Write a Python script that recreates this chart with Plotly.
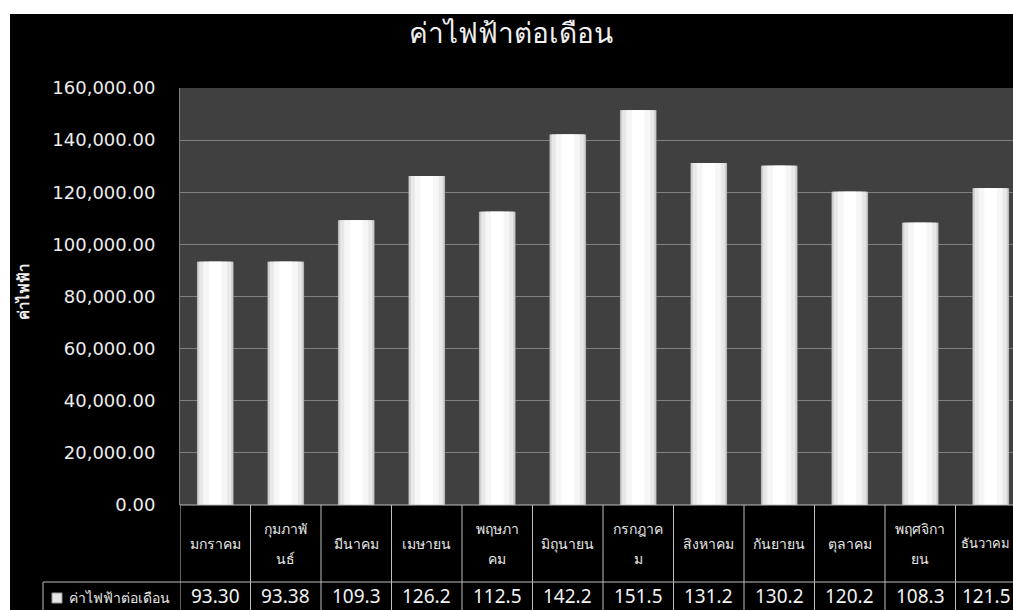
import plotly.graph_objects as go

# Monthly electricity cost (thousand baht)
months = ["มกราคม", "กุมภาพั<br>นธ์", "มีนาคม", "เมษายน", "พฤษภา<br>คม", "มิถุนายน",
          "กรกฎาค<br>ม", "สิงหาคม", "กันยายน", "ตุลาคม", "พฤศจิกา<br>ยน", "ธันวาคม"]
cost_k = [93.30, 93.38, 109.3, 126.2, 112.5, 142.2, 151.5, 131.2, 130.2, 120.2, 108.3, 121.5]
series_name = "ค่าไฟฟ้าต่อเดือน"
y_title = "ค่าไฟฟ้า"
y_ticks = [0, 20000, 40000, 60000, 80000, 100000, 120000, 140000, 160000]

cost = [v * 1000 for v in cost_k]
cost_text = [f"{v:.2f}"[:5] for v in cost_k]
x = list(range(len(months)))

W, H = 1013, 610
L, R, T, B = 180, 0, 88, 105
pw, ph = W - L - R, H - T - B
cat_px = 70.5


def px_x(p):
    return (p - L) / pw


def px_y(p):
    return (H - B - p) / ph


FONT = "Noto Sans, DejaVu Sans, sans-serif"

fig = go.Figure()

# layered bars give a soft bevelled white column
layers = [(0.52, "#a6a6a6"), (0.50, "#d2d2d2"), (0.45, "#e8e8e8"), (0.34, "#f6f6f6"), (0.18, "#ffffff")]
for w, c in layers:
    fig.add_trace(go.Bar(x=x, y=cost, width=w, marker=dict(color=c, line=dict(width=0)),
                         hoverinfo="skip", showlegend=False))

shapes = []
annotations = []

# data table below the plot
line_col = "#bdbdbd"
y_top = px_y(505)
y_mid = px_y(582)
y_bot = px_y(H + 5)
for i in range(len(months) + 1):
    shapes.append(dict(type="line", xref="x", yref="paper", x0=i - 0.5, x1=i - 0.5,
                       y0=y_top, y1=y_bot, line=dict(color=line_col, width=1)))
shapes.append(dict(type="line", xref="paper", yref="paper", x0=0, x1=1.05,
                   y0=y_top, y1=y_top, line=dict(color=line_col, width=1)))
shapes.append(dict(type="line", xref="paper", yref="paper", x0=px_x(43), x1=1.05,
                   y0=y_mid, y1=y_mid, line=dict(color=line_col, width=1)))
shapes.append(dict(type="line", xref="paper", yref="paper", x0=px_x(43), x1=px_x(43),
                   y0=y_mid, y1=y_bot, line=dict(color=line_col, width=1)))
# legend swatch
shapes.append(dict(type="rect", xref="paper", yref="paper", x0=px_x(52), x1=px_x(62),
                   y0=px_y(603), y1=px_y(593), fillcolor="#e6e6e6",
                   line=dict(color="#9a9a9a", width=1)))

# page edges
shapes.append(dict(type="rect", xref="paper", yref="paper", x0=px_x(-5), x1=px_x(W + 5),
                   y0=px_y(14), y1=px_y(-5), fillcolor="white", line=dict(width=0)))
shapes.append(dict(type="rect", xref="paper", yref="paper", x0=px_x(-5), x1=px_x(10),
                   y0=px_y(H + 5), y1=px_y(-5), fillcolor="white", line=dict(width=0)))

last = len(months) - 1
for i, m in enumerate(months):
    # the last column runs off the right edge, so its texts hug that edge
    if i == last:
        pos = dict(x=px_x(W - 1), xref="paper", xanchor="right")
        msize = 13
    else:
        pos = dict(x=i, xref="x", xanchor="center")
        msize = 14
    parts = m.split("<br>")
    if len(parts) == 1:
        rows = [(parts[0], 543)]
    else:
        rows = [(parts[0], 528), (parts[1], 558)]
    for txt, py in rows:
        annotations.append(dict(y=px_y(py), yref="paper", text=txt, showarrow=False,
                                yanchor="middle",
                                font=dict(family=FONT, size=msize, color="#e6e6e6"), **pos))
    annotations.append(dict(y=px_y(H), yref="paper", text=cost_text[i], showarrow=False,
                            yanchor="bottom", borderpad=0,
                            font=dict(family=FONT, size=19, color="#f2f2f2"), **pos))

annotations.append(dict(x=px_x(67), y=px_y(597), xref="paper", yref="paper", text=series_name,
                        showarrow=False, xanchor="left", yanchor="middle",
                        font=dict(family=FONT, size=14, color="#e6e6e6")))

# chart title and axis title
annotations.append(dict(x=px_x(511), y=px_y(32), xref="paper", yref="paper", text="ค่าไฟฟ้าต่อเดือน",
                        showarrow=False, xanchor="center", yanchor="middle",
                        font=dict(family=FONT, size=28, color="#f0f0f0")))
annotations.append(dict(x=px_x(23), y=px_y(292), xref="paper", yref="paper",
                        text=f"<b>{y_title}</b>", textangle=-90, showarrow=False,
                        xanchor="center", yanchor="middle",
                        font=dict(family=FONT, size=15, color="#f0f0f0")))

x_max = -0.5 + pw / cat_px

fig.update_layout(
    width=W, height=H,
    margin=dict(l=L, r=R, t=T, b=B, pad=0),
    paper_bgcolor="black",
    plot_bgcolor="#404040",
    barmode="overlay",
    showlegend=False,
    shapes=shapes,
    annotations=annotations,
    xaxis=dict(range=[-0.5, x_max], showticklabels=False, showgrid=False, zeroline=False,
               showline=False, fixedrange=True),
    yaxis=dict(range=[0, 160000], tickvals=y_ticks, tickformat=",.2f", showgrid=True,
               gridcolor="#7f7f7f", gridwidth=1, zeroline=False, showline=True,
               linecolor="#7f7f7f", linewidth=1, mirror=False, ticks="",
               ticklabelstandoff=20,
               tickfont=dict(family="DejaVu Sans", size=18, color="#ececec"), fixedrange=True),
)

fig.write_html("out.html")
